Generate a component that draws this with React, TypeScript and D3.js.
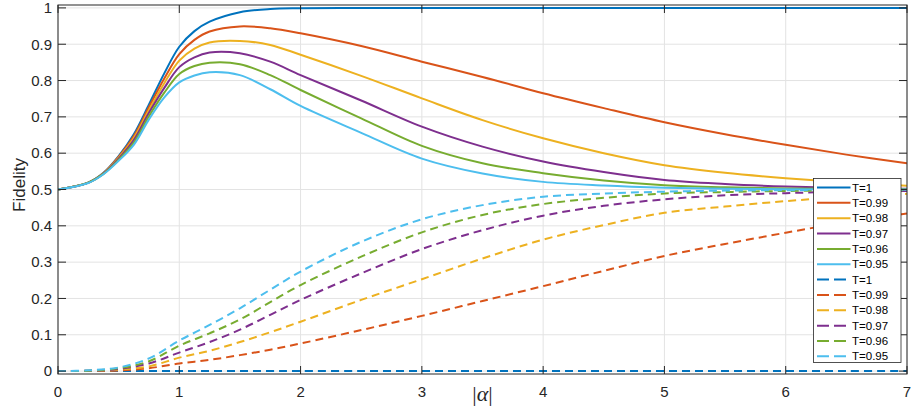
import React from "react";
import * as d3 from "d3";

const alphaSolid = [0, 0.25, 0.375, 0.5, 0.625, 0.75, 0.875, 1, 1.125, 1.25, 1.5, 1.75, 2, 2.5, 3, 3.5, 4, 4.5, 5, 5.5, 6, 6.5, 7];
const alphaDash = [0, 0.25, 0.5, 0.75, 1, 1.25, 1.5, 1.75, 2, 2.5, 3, 3.5, 4, 4.5, 5, 5.5, 6, 6.5, 7];

const labels = ["T=1", "T=0.99", "T=0.98", "T=0.97", "T=0.96", "T=0.95"];
const colors = ["#0072BD", "#D95319", "#EDB120", "#7E2F8E", "#77AC30", "#4DBEEE"];

const solidT1 = [0.5, 0.519, 0.546, 0.592, 0.652, 0.734, 0.819, 0.893, 0.936, 0.962, 0.988, 0.997, 0.999, 1, 1, 1, 1, 1, 1, 1, 1, 1, 1];
const solidT099 = [0.5, 0.519, 0.545, 0.59, 0.647, 0.727, 0.805, 0.873, 0.912, 0.935, 0.949, 0.944, 0.93, 0.895, 0.852, 0.81, 0.765, 0.724, 0.685, 0.652, 0.623, 0.596, 0.572];
const solidT098 = [0.5, 0.519, 0.545, 0.588, 0.642, 0.719, 0.792, 0.855, 0.888, 0.905, 0.909, 0.898, 0.871, 0.813, 0.751, 0.691, 0.641, 0.6, 0.567, 0.546, 0.531, 0.519, 0.51];
const solidT097 = [0.5, 0.519, 0.544, 0.585, 0.636, 0.711, 0.779, 0.837, 0.864, 0.877, 0.875, 0.852, 0.815, 0.745, 0.673, 0.618, 0.577, 0.548, 0.526, 0.515, 0.508, 0.504, 0.502];
const solidT096 = [0.5, 0.519, 0.543, 0.582, 0.629, 0.702, 0.766, 0.818, 0.84, 0.849, 0.845, 0.815, 0.774, 0.696, 0.62, 0.572, 0.545, 0.525, 0.512, 0.506, 0.503, 0.502, 0.501];
const solidT095 = [0.5, 0.518, 0.542, 0.579, 0.623, 0.693, 0.753, 0.795, 0.814, 0.823, 0.815, 0.776, 0.73, 0.656, 0.585, 0.544, 0.521, 0.511, 0.505, 0.502, 0.501, 0.5, 0.5];

const dashT1 = [0, 0, 0, 0, 0, 0, 0, 0, 0, 0, 0, 0, 0, 0, 0, 0, 0, 0, 0];
const dashT099 = [0, 0.0005, 0.002, 0.008, 0.021, 0.031, 0.044, 0.059, 0.076, 0.113, 0.152, 0.193, 0.234, 0.276, 0.317, 0.35, 0.381, 0.41, 0.434];
const dashT098 = [0, 0.001, 0.004, 0.013, 0.037, 0.056, 0.08, 0.107, 0.136, 0.196, 0.253, 0.31, 0.362, 0.402, 0.436, 0.453, 0.468, 0.48, 0.488];
const dashT097 = [0, 0.001, 0.006, 0.021, 0.051, 0.08, 0.114, 0.155, 0.196, 0.269, 0.336, 0.388, 0.428, 0.455, 0.473, 0.484, 0.49, 0.494, 0.496];
const dashT096 = [0, 0.001, 0.008, 0.027, 0.07, 0.104, 0.142, 0.19, 0.237, 0.315, 0.382, 0.43, 0.46, 0.477, 0.489, 0.493, 0.496, 0.497, 0.498];
const dashT095 = [0, 0.002, 0.01, 0.035, 0.084, 0.127, 0.173, 0.224, 0.274, 0.356, 0.418, 0.457, 0.48, 0.489, 0.494, 0.497, 0.498, 0.499, 0.5];

const solidSeries = [solidT1, solidT099, solidT098, solidT097, solidT096, solidT095];
const dashSeries = [dashT1, dashT099, dashT098, dashT097, dashT096, dashT095];

const xTicks = [0, 1, 2, 3, 4, 5, 6, 7];
const yTicks = [0, 0.1, 0.2, 0.3, 0.4, 0.5, 0.6, 0.7, 0.8, 0.9, 1];

const W = 911;
const H = 412;
const L = 58;
const R = 907;
const T = 5;
const B = 374;
const FONT = "'Liberation Sans', Arial, Helvetica, sans-serif";
const AX = "#262626";

export default function App() {
  const x = d3.scaleLinear().domain([0, 7]).range([L, R]);
  const y = d3.scaleLinear().domain([-0.008, 1.008]).range([B, T]);
  const mkLine = (xs: number[]) =>
    d3
      .line<number>()
      .x((_, i) => x(xs[i]))
      .y((d) => y(d))
      .curve(d3.curveCatmullRom.alpha(0.5));
  const solidLine = mkLine(alphaSolid);
  const dashLine = mkLine(alphaDash);

  const legX = 813.5;
  const legY = 178.5;
  const legW = 87.5;
  const legH = 184;
  const rowH = 15.35;
  const entries = [
    ...labels.map((l, i) => ({ label: l, color: colors[i], dashed: false })),
    ...labels.map((l, i) => ({ label: l, color: colors[i], dashed: true })),
  ];

  return (
    <svg
      width={W}
      height={H}
      style={{ position: "absolute", left: 0, top: 0, background: "#fff" }}
      fontFamily={FONT}
    >
      <defs>
        <clipPath id="plotclip">
          <rect x={L} y={T - 2} width={R - L} height={B - T + 4} />
        </clipPath>
      </defs>
      <g stroke="#e3e3e3" strokeWidth={1}>
        {xTicks.map((t) => (
          <line key={"gx" + t} x1={x(t)} x2={x(t)} y1={T} y2={B} />
        ))}
        {yTicks.map((t) => (
          <line key={"gy" + t} x1={L} x2={R} y1={y(t)} y2={y(t)} />
        ))}
      </g>
      <g clipPath="url(#plotclip)" fill="none" strokeWidth={2}>
        {dashSeries.map((s, i) => (
          <path key={"d" + i} d={dashLine(s) || ""} stroke={colors[i]} strokeDasharray="8,5" />
        ))}
        {solidSeries.map((s, i) => (
          <path key={"s" + i} d={solidLine(s) || ""} stroke={colors[i]} />
        ))}
      </g>
      <rect x={L} y={T} width={R - L} height={B - T} fill="none" stroke={AX} strokeWidth={1} />
      <g stroke={AX} strokeWidth={1}>
        {xTicks.map((t) => (
          <g key={"tx" + t}>
            <line x1={x(t)} x2={x(t)} y1={B} y2={B - 8} />
            <line x1={x(t)} x2={x(t)} y1={T} y2={T + 8} />
          </g>
        ))}
        {yTicks.map((t) => (
          <g key={"ty" + t}>
            <line x1={L} x2={L + 8} y1={y(t)} y2={y(t)} />
            <line x1={R} x2={R - 8} y1={y(t)} y2={y(t)} />
          </g>
        ))}
      </g>
      <g fill={AX} fontSize={15}>
        {xTicks.map((t) => (
          <text key={"lx" + t} x={x(t)} y={397} textAnchor="middle">
            {String(t)}
          </text>
        ))}
        {yTicks.map((t) => (
          <text key={"ly" + t} x={52} y={y(t) + 5.3} textAnchor="end">
            {String(t)}
          </text>
        ))}
      </g>
      <text
        transform="translate(25,185) rotate(-90)"
        textAnchor="middle"
        fontSize={17}
        fill={AX}
      >
        Fidelity
      </text>
      <text
        x={(L + R) / 2}
        y={401}
        textAnchor="middle"
        fontSize={22}
        fill={AX}
        fontFamily="'Liberation Serif', 'Times New Roman', serif"
      >
        <tspan>|</tspan>
        <tspan fontStyle="italic">α</tspan>
        <tspan>|</tspan>
      </text>
      <g>
        <rect x={legX} y={legY} width={legW} height={legH} fill="#fff" stroke="#262626" strokeWidth={0.8} />
        {entries.map((e, i) => {
          const cy = legY + 9 + i * rowH;
          return (
            <g key={"lg" + i}>
              <line
                x1={legX + 3.5}
                x2={legX + 37}
                y1={cy}
                y2={cy}
                stroke={e.color}
                strokeWidth={2}
                strokeDasharray={e.dashed ? "12,5" : undefined}
              />
              <text x={legX + 38.5} y={cy + 4} fontSize={11.5} fill="#000">
                {e.label}
              </text>
            </g>
          );
        })}
      </g>
    </svg>
  );
}
